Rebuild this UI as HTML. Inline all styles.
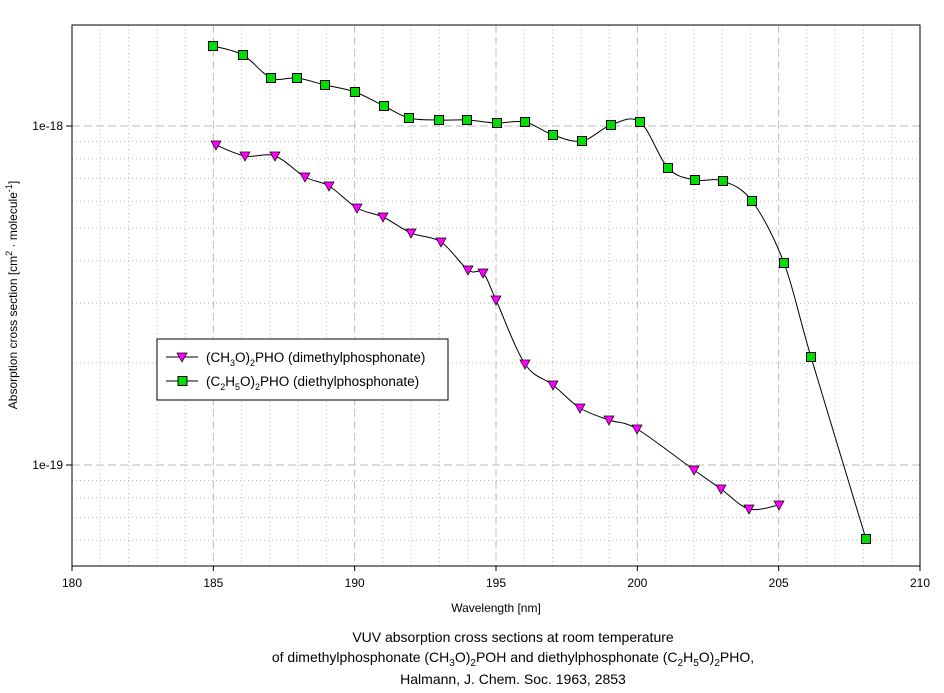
<!DOCTYPE html><html><head><style>body{margin:0;background:#fff}svg{display:block;font-family:"Liberation Sans",sans-serif}</style></head><body>
<svg id="s" width="944" height="693" xmlns="http://www.w3.org/2000/svg">
<rect x="0" y="0" width="944" height="693" fill="#fff"/>
<g id="grid"></g>
<rect x="72" y="25" width="848" height="541" fill="none" stroke="#000" stroke-width="1"/>
<g id="ticks" font-size="12" fill="#000"></g>
<g id="data"></g>
<text x="17" y="295" font-size="12" text-anchor="middle" transform="rotate(-90 17 295)">Absorption cross section [cm<tspan dy="-5" font-size="9">2</tspan><tspan dy="5"> · molecule</tspan><tspan dy="-5" font-size="9">-1</tspan><tspan dy="5">]</tspan></text>
<text x="496" y="612" font-size="12" text-anchor="middle">Wavelength [nm]</text>
<text x="513" y="642" font-size="14" text-anchor="middle">VUV absorption cross sections at room temperature</text>
<text x="513" y="662" font-size="14" text-anchor="middle">of dimethylphosphonate (CH<tspan dy="4" font-size="10">3</tspan><tspan dy="-4">O)</tspan><tspan dy="4" font-size="10">2</tspan><tspan dy="-4">POH and diethylphosphonate (C</tspan><tspan dy="4" font-size="10">2</tspan><tspan dy="-4">H</tspan><tspan dy="4" font-size="10">5</tspan><tspan dy="-4">O)</tspan><tspan dy="4" font-size="10">2</tspan><tspan dy="-4">PHO,</tspan></text>
<text x="513" y="684" font-size="14" text-anchor="middle">Halmann, J. Chem. Soc. 1963, 2853</text>
<rect x="157" y="339" width="291" height="61" fill="#fff" stroke="#000"/>
<line x1="166" y1="357" x2="198" y2="357" stroke="#000"/>
<polygon points="177,353 187,353 182,362" fill="#f0f" stroke="#000" stroke-width="0.7"/>
<text x="206" y="362" font-size="13.5">(CH<tspan dy="4" font-size="9">3</tspan><tspan dy="-4">O)</tspan><tspan dy="4" font-size="9">2</tspan><tspan dy="-4">PHO (dimethylphosphonate)</tspan></text>
<line x1="166" y1="381" x2="198" y2="381" stroke="#000"/>
<rect x="178" y="376.5" width="9" height="9" fill="#0d0" stroke="#000"/>
<text x="206" y="386" font-size="13.5">(C<tspan dy="4" font-size="9">2</tspan><tspan dy="-4">H</tspan><tspan dy="4" font-size="9">5</tspan><tspan dy="-4">O)</tspan><tspan dy="4" font-size="9">2</tspan><tspan dy="-4">PHO (diethylphosphonate)</tspan></text>
</svg>
<script>
var NS="http://www.w3.org/2000/svg";
function el(p,t,a){var e=document.createElementNS(NS,t);for(var k in a)e.setAttribute(k,a[k]);p.appendChild(e);return e;}
var g=document.getElementById("grid"),tk=document.getElementById("ticks"),d=document.getElementById("data");
function Y(v){return 465-339*Math.log10(v/1e-19);}
function X(w){return 72+(w-180)*848/30;}
[[6,-20],[7,-20],[8,-20],[9,-20],[2,-19],[3,-19],[4,-19],[5,-19],[6,-19],[7,-19],[8,-19],[9,-19]].forEach(function(m){
 var y=Y(m[0]*Math.pow(10,m[1]));el(g,"line",{x1:72,x2:920,y1:y,y2:y,stroke:"#bbb","stroke-dasharray":"1,3"});});
for(var w=181;w<210;w++){if(w%5)el(g,"line",{x1:X(w),x2:X(w),y1:25,y2:566,stroke:"#bbb","stroke-dasharray":"1,3"});}
[1e-19,1e-18].forEach(function(v,i){var y=Y(v);el(g,"line",{x1:72,x2:920,y1:y,y2:y,stroke:"#bbb","stroke-dasharray":"8,4"});
 el(tk,"line",{x1:66,x2:72,y1:y,y2:y,stroke:"#000"});
 var t=el(tk,"text",{x:63,y:y+4,"text-anchor":"end"});t.textContent=i?"1e-18":"1e-19";});
for(var w=180;w<=210;w+=5){var x=X(w);
 if(w>180&&w<210)el(g,"line",{x1:x,x2:x,y1:25,y2:566,stroke:"#bbb","stroke-dasharray":"8,4"});
 el(tk,"line",{x1:x,x2:x,y1:566,y2:571,stroke:"#000"});
 var t=el(tk,"text",{x:x,y:587,"text-anchor":"middle"});t.textContent=w;}
var sq=[[213,46],[243,55],[271,78],[297,78],[325,85],[355,92],[384,106],[409,118],[439,120],[467,120],[497,123],[525,122],[553,135],[582,141],[611,125],[640,122],[668,168],[695,180],[723,181],[752,201],[784,263],[811,357],[866,539]];
var tr=[[216,145],[245,156],[275,156],[305,177],[329,186],[357,208],[383,217],[411,233],[441,242],[468,270],[483,273],[496,300],[525,364],[553,385],[580,408],[609,420],[637,429],[694,470],[721,489],[749,509],[779,505]];
function path(p){var s="M"+p[0][0]+","+p[0][1];for(var i=0;i<p.length-1;i++){var a=p[i-1]||p[i],b=p[i],c=p[i+1],e=p[i+2]||c;
 s+=" C"+(b[0]+(c[0]-a[0])/6)+","+(b[1]+(c[1]-a[1])/6)+" "+(c[0]-(e[0]-b[0])/6)+","+(c[1]-(e[1]-b[1])/6)+" "+c[0]+","+c[1];}return s;}
el(d,"path",{d:path(sq),fill:"none",stroke:"#000"});
el(d,"path",{d:path(tr),fill:"none",stroke:"#000"});
sq.forEach(function(p){el(d,"rect",{x:p[0]-4.5,y:p[1]-4.5,width:9,height:9,fill:"#0d0",stroke:"#000"});});
tr.forEach(function(p){el(d,"polygon",{points:(p[0]-5)+","+(p[1]-4)+" "+(p[0]+5)+","+(p[1]-4)+" "+p[0]+","+(p[1]+5),fill:"#f0f",stroke:"#000","stroke-width":0.7});});
</script>
</body></html>
